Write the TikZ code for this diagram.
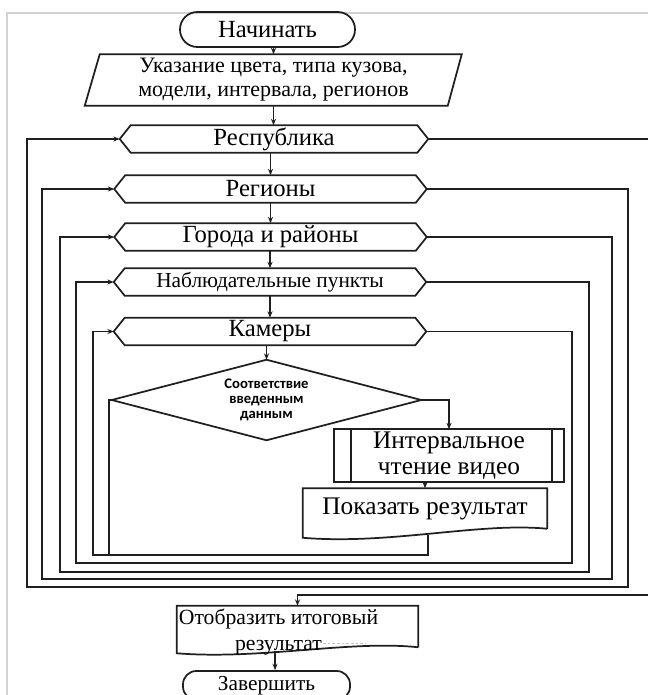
\documentclass[tikz,border=0pt]{standalone}
\usepackage{fontspec}
\setmainfont{Liberation Serif}
\newfontfamily\boldsans{Carlito}[BoldFont=Carlito Bold]
\usetikzlibrary{calc,arrows.meta}

% outline of a preparation (hexagon) block around a node
\newcommand\hexout[2]{%
  \draw[line] (#1.west) -- ($(#1.north west)+(#2,0)$) -- ($(#1.north east)+(-#2,0)$)
    -- (#1.east) -- ($(#1.south east)+(-#2,0)$) -- ($(#1.south west)+(#2,0)$) -- cycle;}

\begin{document}
\begin{tikzpicture}[x=0.75pt,y=-0.75pt,
  line/.style={draw=black!88, line width=1.3pt, line join=miter},
  arr/.style={line, -{Stealth[length=4.8pt,width=3.8pt]}},
  big/.style={font=\fontsize{18.5}{19.5}\selectfont},
  mid/.style={font=\fontsize{16}{18}\selectfont},
  blk/.style={inner sep=0pt, align=center},
  term/.style={blk, line, rounded corners=12pt},
  hexnode/.style={blk, minimum width=234pt, minimum height=20.25pt}
]
\useasboundingbox (0,0) rectangle (648,695);
\fill[white] (0,0) rectangle (648,695);

% page frame
\draw[gray!35, line width=1.4pt] (7,695) -- (7,13) -- (648,13);

% start / input
\node[term, big, minimum width=131.25pt, minimum height=26.25pt, rounded corners=13pt]
  (start) at (267.5,29.5) {Начинать};
\node[blk, font=\fontsize{16.5}{18}\selectfont, minimum width=271.5pt, minimum height=38.25pt]
  (para) at (273.5,80) {Указание цвета, типа кузова,\\модели, интервала, регионов};
\draw[line] ($(para.south west)+(-7.5,0)$) -- ($(para.north west)+(7.5,0)$)
  -- ($(para.north east)+(7,0)$) -- ($(para.south east)+(-7,0)$) -- cycle;

% nested loop headers
\node[hexnode, big, minimum width=231pt] (rep) at (274,139) {Республика};
\node[hexnode, big] (reg) at (270.5,189) {Регионы};
\node[hexnode, big] (gor) at (270.5,237) {Города и районы};
\node[hexnode, mid] (nab) at (270,282) {Наблюдательные пункты};
\node[hexnode, big] (kam) at (270,331.5) {Камеры};
\foreach \n in {rep,reg,gor,nab,kam} {\hexout{\n}{11}}

% decision
\node[blk, minimum width=231.75pt, minimum height=60pt,
  font=\boldsans\bfseries\fontsize{11}{11.5}\selectfont]
  (dia) at (266.5,400) {Соответствие\\введенным\\данным};
\draw[line] (dia.north) -- (dia.east) -- (dia.south) -- (dia.west) -- cycle;

% predefined process
\node[blk, font=\fontsize{19}{20}\selectfont, minimum width=172.5pt, minimum height=39pt]
  (pp) at (449,455.5) {Интервальное\\чтение видео};
\draw[line] (pp.south west) rectangle (pp.north east);
\draw[line] ($(pp.north west)+(17,0)$) -- ($(pp.south west)+(17,0)$);
\draw[line] ($(pp.north east)+(-12,0)$) -- ($(pp.south east)+(-12,0)$);

% document: show result
\node[blk, font=\fontsize{19}{20}\selectfont, minimum width=183pt, minimum height=30pt]
  (res) at (425,508.5) {Показать результат};
\draw[line] (res.south east) -- (res.north east) -- (res.north west)
  -- ($(res.south west)+(0,9)$) .. controls (390,545) and (480,522) .. (res.south east);
\coordinate (resb) at (428,534.5);

% document: final output
\node[blk, minimum width=180.75pt, minimum height=30.75pt] (out) at (297.5,626.5) {};
\draw[line] (out.south east) -- (out.north east) -- (out.north west)
  -- ($(out.south west)+(0,6)$) .. controls (260,660) and (350,640) .. (out.south east);
\node[blk, font=\fontsize{16.25}{19.5}\selectfont] (outtxt) at (278.5,632.5)
  {Отобразить итоговый\\результат};
\draw[gray!45, line width=0.5pt, dash pattern=on 2pt off 1.5pt] (323,643) -- (366,643);
\coordinate (outb) at (275,651);

% end
\node[term, mid, minimum width=125.25pt, minimum height=21.75pt, rounded corners=10pt]
  (fin) at (266.5,685.5) {Завершить};

% main flow
\draw[arr] (start.south -| para.north) -- (para.north);
\draw[arr] (para.south) -- (para.south |- rep.north);
\draw[arr] (rep.south -| reg.north) -- (reg.north);
\draw[arr] (reg.south) -- (gor.north);
\draw[arr] (gor.south -| nab.north) -- (nab.north);
\draw[arr] (nab.south) -- (kam.north);
\draw[arr] (kam.south -| dia.north) -- (dia.north);
\draw[arr] (dia.east) -| (pp.north);
\draw[arr] (pp.south -| res.north) -- (res.north);

% loop returns
\draw[line] (dia.west) -- (109,400) -- (109,555);
\draw[arr] (resb) -- (428,555) -| (93,331.5) -- (kam.west);
\draw[arr] (kam.east) -| (572,563) -| (76,282) -- (nab.west);
\draw[arr] (nab.east) -| (589,572) -| (60,237) -- (gor.west);
\draw[arr] (gor.east) -| (612,579) -| (42,189) -- (reg.west);
\draw[arr] (reg.east) -| (628,587) -| (27,139) -- (rep.west);

% exit of the outer loop
\draw[arr] (rep.east) -- (662,139) |- ($(out.north)+(0,-11)$) -- (out.north);
\draw[arr] (outb) -- (outb |- fin.north);
\end{tikzpicture}
\end{document}
